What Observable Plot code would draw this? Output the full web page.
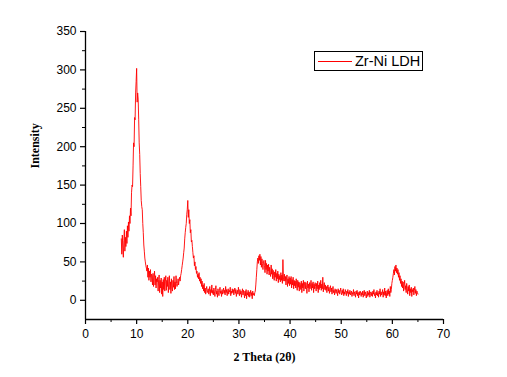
<!DOCTYPE html>
<html>
<head>
<meta charset="utf-8">
<script src="https://cdn.jsdelivr.net/npm/d3@7"></script>
<script src="https://cdn.jsdelivr.net/npm/@observablehq/plot@0.6"></script>
<style>
  html, body { margin: 0; padding: 0; background: #fff; }
  #chart { position: relative; width: 507px; height: 377px; }
  #legend {
    position: absolute; left: 314px; top: 51px; width: 107px; height: 18px;
    border: 1px solid #000; background: #fff; box-sizing: content-box;
    font-family: "Liberation Sans", Arial, sans-serif; font-size: 14.5px; color: #000;
    display: flex; align-items: center;
  }
  #legend .sw { width: 34px; height: 0; border-top: 1px solid #ff0000; margin-left: 3px; margin-right: 3px; }
</style>
</head>
<body>
<div id="chart"></div>
<script>
// 2θ scan grid (degrees)
const twoThetaStart = 7.0;
const twoThetaStep = 0.1;
// Intensity readings, 10 per degree, from 7.0° to 65.0°
const intensity = [
  80, 60, 85, 68, 56, 78, 92, 64, 82, 70,
  90, 74, 97, 82, 102, 90, 110, 100, 120, 110,
  140, 150, 148, 175, 205, 200, 238, 235, 270, 285,
  302, 258, 270, 262, 235, 205, 190, 165, 148, 130,
  122, 118, 100, 88, 72, 64, 55, 50, 45, 42,
  38, 46, 30, 42, 26, 38, 30, 40, 24, 34,
  32, 20, 35, 18, 30, 38, 20, 32, 16, 28,
  24, 30, 12, 27, 33, 10, 26, 16, 29, 8,
  24, 5, 27, 14, 30, 12, 24, 32, 13, 26,
  18, 30, 10, 25, 32, 14, 24, 9, 28, 16,
  12, 26, 17, 31, 14, 24, 15, 32, 22, 18,
  22, 28, 20, 26, 30, 25, 32, 35, 40, 45,
  50, 55, 62, 68, 80, 88, 95, 100, 112, 118,
  130, 108, 118, 100, 105, 88, 92, 76, 78, 70,
  62, 55, 58, 45, 50, 40, 44, 35, 38, 30,
  34, 28, 36, 25, 30, 22, 28, 18, 25, 15,
  20, 12, 22, 10, 16, 8, 14, 18, 10, 12,
  15, 8, 12, 18, 6, 14, 10, 20, 9, 13,
  7, 16, 11, 5, 14, 19, 8, 12, 4, 15,
  10, 6, 13, 17, 9, 12, 5, 14, 8, 11,
  16, 9, 13, 7, 18, 10, 14, 6, 12, 15,
  8, 13, 11, 17, 6, 12, 9, 15, 10, 14,
  7, 12, 16, 9, 14, 5, 11, 13, 8, 17,
  10, 6, 14, 8, 12, 4, 11, 15, 7, 13,
  9, 3, 12, 6, 14, 2, 10, 7, 13, 5,
  11, 4, 8, 13, 6, 10, 2, 12, 7, 9,
  6, 10, 12, 20, 30, 40, 50, 55, 48, 58,
  52, 60, 46, 57, 43, 54, 48, 40, 50, 52,
  45, 36, 52, 40, 48, 34, 46, 38, 47, 33,
  43, 36, 31, 46, 34, 41, 28, 39, 32, 26,
  37, 30, 40, 25, 35, 28, 38, 23, 34, 27,
  32, 24, 36, 26, 33, 22, 53, 29, 25, 34,
  25, 31, 20, 29, 33, 18, 28, 22, 31, 19,
  29, 21, 31, 16, 27, 20, 30, 15, 26, 19,
  25, 16, 28, 18, 13, 26, 17, 24, 12, 23,
  21, 14, 25, 10, 22, 16, 26, 12, 20, 24,
  15, 23, 17, 9, 25, 16, 21, 11, 23, 15,
  20, 26, 13, 22, 16, 24, 10, 21, 15, 23,
  18, 12, 22, 15, 25, 10, 20, 14, 23, 16,
  26, 13, 21, 15, 30, 11, 19, 23, 14, 20,
  13, 18, 10, 16, 20, 12, 17, 9, 15, 19,
  11, 16, 8, 14, 18, 10, 13, 7, 15, 12,
  9, 14, 11, 6, 15, 10, 13, 8, 12, 16,
  10, 7, 13, 9, 15, 6, 11, 8, 14, 10,
  6, 12, 9, 14, 5, 11, 8, 13, 7, 10,
  12, 5, 10, 8, 14, 6, 11, 9, 4, 12,
  8, 13, 6, 10, 3, 11, 7, 12, 9, 5,
  10, 7, 12, 4, 9, 13, 6, 11, 8, 3,
  9, 12, 5, 10, 7, 13, 4, 9, 11, 6,
  10, 5, 12, 8, 14, 6, 9, 3, 11, 7,
  13, 6, 10, 4, 12, 8, 15, 5, 11, 7,
  9, 14, 4, 11, 7, 16, 6, 12, 3, 10,
  13, 6, 15, 8, 12, 5, 18, 10, 14, 22,
  26, 30, 35, 40, 33, 44, 38, 46, 36, 42,
  34, 40, 30, 36, 26, 32, 22, 28, 18, 25,
  16, 24, 12, 20, 26, 14, 19, 10, 22, 15,
  8, 18, 12, 20, 6, 15, 10, 17, 5, 14,
  11, 16, 7, 13, 18, 9, 14, 6, 12, 10,
  8
];
const seriesName = "Zr-Ni LDH";
const xLabel = "2 Theta (2\u03b8)";
const yLabel = "Intensity";
const xDomain = [0, 70];
const yDomain = [-25, 350];
const xTicks = [0, 10, 20, 30, 40, 50, 60, 70];
const xMinorTicks = [5, 15, 25, 35, 45, 55, 65];
const yTicks = [0, 50, 100, 150, 200, 250, 300, 350];
const yMinorTicks = [25, 75, 125, 175, 225, 275, 325];

const data = intensity.map((v, i) => ({
  twoTheta: Math.round((twoThetaStart + i * twoThetaStep) * 100) / 100,
  intensity: v
}));

const tickFont = "Liberation Sans, Arial, sans-serif";
const titleFont = "Liberation Serif, Times New Roman, serif";

const chart = Plot.plot({
  width: 507,
  height: 377,
  marginLeft: 85,
  marginRight: 64,
  marginTop: 31,
  marginBottom: 58,
  style: { fontFamily: tickFont, fontSize: "12px", color: "#000", background: "#fff" },
  x: { domain: xDomain },
  y: { domain: yDomain },
  marks: [
    Plot.line(data, { x: "twoTheta", y: "intensity", stroke: "#ff0000", strokeWidth: 0.9 }),
    Plot.ruleX([xDomain[0]], { stroke: "#000", strokeWidth: 1.3 }),
    Plot.ruleY([yDomain[0]], { stroke: "#000", strokeWidth: 1.3 }),
    Plot.axisX(xTicks, { tickSize: 5, tickPadding: 5, label: null, fontSize: 12, strokeWidth: 1.2 }),
    Plot.axisX(xMinorTicks, { tickSize: 3, text: null, label: null, strokeWidth: 1 }),
    Plot.axisY(yTicks, { tickSize: 5, tickPadding: 4, label: null, fontSize: 12, strokeWidth: 1.2 }),
    Plot.axisY(yMinorTicks, { tickSize: 3, text: null, label: null, strokeWidth: 1 }),
    Plot.text([xLabel], { frameAnchor: "bottom", dy: 41, fontFamily: titleFont, fontWeight: "bold", fontSize: 12, fill: "#000" }),
    Plot.text([yLabel], { frameAnchor: "left", dx: -50, dy: -7, rotate: -90, fontFamily: titleFont, fontWeight: "bold", fontSize: 12, fill: "#000" })
  ]
});

const container = document.getElementById("chart");
container.appendChild(chart);
const legend = document.createElement("div");
legend.id = "legend";
const sw = document.createElement("span");
sw.className = "sw";
const lt = document.createElement("span");
lt.textContent = seriesName;
legend.appendChild(sw);
legend.appendChild(lt);
container.appendChild(legend);
</script>
</body>
</html>
